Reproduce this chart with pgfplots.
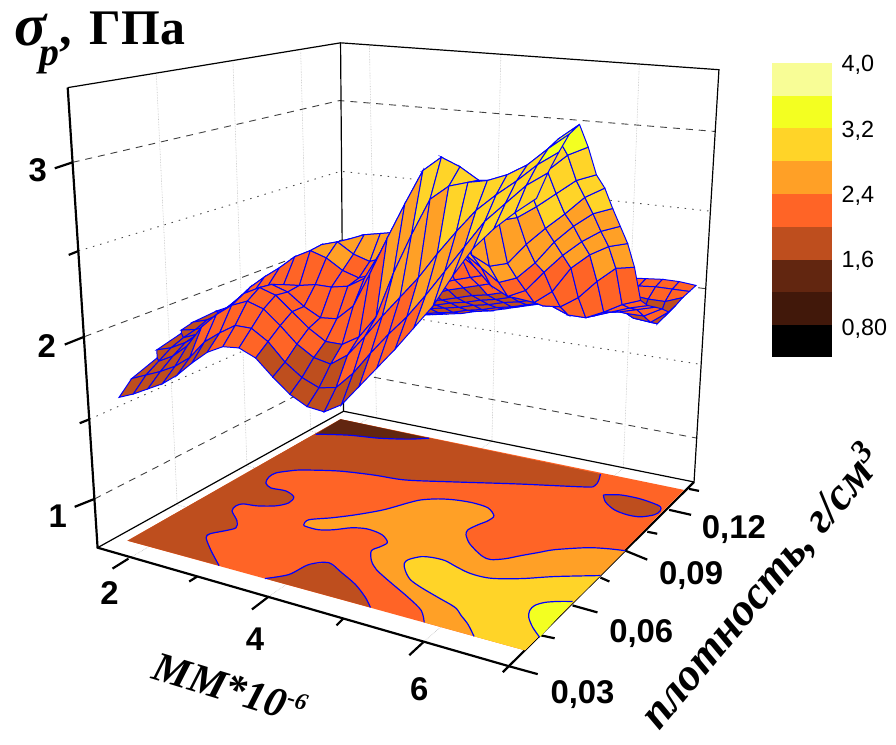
\documentclass[border=0pt]{standalone}
\usepackage{fontspec}
\usepackage{pgfplots}
\usepackage{pgfplotstable}
\pgfplotsset{compat=1.18}
\setmainfont{Liberation Sans}
\newfontfamily\ser{Liberation Serif}
\definecolor{cA}{RGB}{0,0,0}
\definecolor{cB}{RGB}{65,24,10}
\definecolor{cC}{RGB}{98,38,16}
\definecolor{cD}{RGB}{190,78,30}
\definecolor{cE}{RGB}{255,100,38}
\definecolor{cF}{RGB}{255,160,38}
\definecolor{cG}{RGB}{255,212,40}
\definecolor{cH}{RGB}{243,255,33}
\definecolor{cI}{RGB}{248,253,150}
\definecolor{bl}{RGB}{0,0,255}
\pgfplotsset{
 gridv/.style={color=black!25,line width=0.6pt,densely dotted,forget plot},
 dashg/.style={color=black!75,line width=0.9pt,dash pattern=on 7pt off 6pt,forget plot},
 dotg/.style={color=black!70,line width=0.9pt,dash pattern=on 1.5pt off 6pt,forget plot},
 thn/.style={color=black,line width=1.2pt,forget plot},
 thk/.style={color=black,line width=2.2pt,forget plot},
 reg/.style={draw=none,fill=#1,forget plot},
 ctl/.style={color=bl,line width=1.2pt,smooth,forget plot}}
% sigma values: 21 rows (density, back to front), 25 columns (MM)
\pgfplotstableread[row sep=\\]{
s\\
1.46\\1.48\\1.50\\1.52\\1.54\\1.56\\1.58\\1.60\\1.62\\1.64\\1.67\\1.69\\1.72\\1.75\\1.78\\1.81\\1.85\\1.89\\1.95\\2.01\\2.05\\2.06\\2.07\\2.07\\2.06\\
1.50\\1.52\\1.54\\1.56\\1.58\\1.60\\1.62\\1.64\\1.66\\1.68\\1.71\\1.73\\1.76\\1.78\\1.81\\1.84\\1.87\\1.90\\1.94\\2.00\\2.03\\2.04\\2.05\\2.05\\2.05\\
1.56\\1.58\\1.60\\1.62\\1.64\\1.66\\1.68\\1.70\\1.72\\1.74\\1.76\\1.79\\1.81\\1.84\\1.86\\1.89\\1.91\\1.94\\1.97\\2.00\\2.02\\2.01\\2.00\\2.00\\2.04\\
1.63\\1.64\\1.65\\1.67\\1.69\\1.71\\1.73\\1.75\\1.77\\1.79\\1.82\\1.84\\1.87\\1.89\\1.92\\1.95\\1.97\\1.99\\2.02\\2.02\\2.01\\1.96\\1.90\\1.89\\2.02\\
1.65\\1.66\\1.68\\1.70\\1.72\\1.74\\1.77\\1.80\\1.82\\1.85\\1.87\\1.90\\1.93\\1.95\\1.98\\2.01\\2.03\\2.04\\2.04\\2.03\\2.02\\2.00\\1.94\\1.93\\2.01\\
1.68\\1.70\\1.72\\1.75\\1.77\\1.80\\1.83\\1.86\\1.88\\1.91\\1.94\\1.98\\2.01\\2.04\\2.07\\2.10\\2.11\\2.09\\2.06\\2.04\\2.03\\2.02\\2.00\\2.00\\2.06\\
1.72\\1.74\\1.77\\1.80\\1.83\\1.87\\1.90\\1.93\\1.95\\1.98\\2.01\\2.05\\2.09\\2.12\\2.15\\2.17\\2.16\\2.11\\2.07\\2.04\\2.02\\2.02\\2.04\\2.07\\2.10\\
1.76\\1.79\\1.83\\1.87\\1.91\\1.96\\2.00\\2.06\\2.11\\2.15\\2.18\\2.21\\2.24\\2.27\\2.30\\2.33\\2.30\\2.21\\2.12\\2.06\\2.03\\2.03\\2.07\\2.11\\2.14\\
1.82\\1.87\\1.94\\2.03\\2.11\\2.17\\2.21\\2.24\\2.27\\2.29\\2.32\\2.35\\2.38\\2.40\\2.43\\2.43\\2.38\\2.27\\2.16\\2.09\\2.05\\2.05\\2.10\\2.16\\2.20\\
1.88\\1.96\\2.03\\2.10\\2.16\\2.21\\2.25\\2.28\\2.31\\2.34\\2.38\\2.42\\2.46\\2.48\\2.48\\2.45\\2.37\\2.27\\2.17\\2.12\\2.13\\2.20\\2.31\\2.40\\2.42\\
1.90\\1.96\\2.03\\2.10\\2.15\\2.20\\2.24\\2.28\\2.32\\2.36\\2.40\\2.43\\2.45\\2.46\\2.45\\2.42\\2.36\\2.26\\2.18\\2.17\\2.25\\2.40\\2.49\\2.55\\2.58\\
1.87\\1.88\\1.90\\1.97\\2.05\\2.12\\2.18\\2.25\\2.33\\2.39\\2.46\\2.49\\2.50\\2.50\\2.48\\2.44\\2.37\\2.27\\2.22\\2.27\\2.39\\2.50\\2.59\\2.66\\2.70\\
1.88\\1.89\\1.90\\1.92\\1.96\\2.03\\2.13\\2.25\\2.36\\2.46\\2.50\\2.52\\2.54\\2.56\\2.57\\2.54\\2.47\\2.40\\2.33\\2.37\\2.47\\2.60\\2.70\\2.78\\2.82\\
1.88\\1.90\\1.93\\1.97\\2.02\\2.10\\2.20\\2.31\\2.44\\2.47\\2.41\\2.38\\2.42\\2.50\\2.58\\2.64\\2.65\\2.50\\2.45\\2.48\\2.60\\2.70\\2.79\\2.89\\2.95\\
1.87\\1.90\\1.96\\2.05\\2.15\\2.23\\2.30\\2.38\\2.43\\2.40\\2.34\\2.31\\2.35\\2.47\\2.62\\2.75\\2.83\\2.79\\2.75\\2.74\\2.77\\2.84\\2.92\\3.00\\3.04\\
1.85\\1.87\\1.91\\1.98\\2.07\\2.16\\2.22\\2.24\\2.25\\2.27\\2.27\\2.29\\2.35\\2.52\\2.72\\2.90\\3.02\\3.03\\2.96\\2.90\\2.91\\2.98\\3.06\\3.15\\3.20\\
1.83\\1.85\\1.89\\1.94\\2.00\\2.10\\2.22\\2.27\\2.24\\2.17\\2.12\\2.13\\2.22\\2.42\\2.63\\2.83\\3.02\\3.10\\3.06\\3.00\\3.01\\3.06\\3.14\\3.25\\3.33\\
1.79\\1.82\\1.87\\1.93\\2.02\\2.14\\2.23\\2.28\\2.25\\2.17\\2.09\\2.03\\2.03\\2.09\\2.22\\2.48\\2.70\\2.90\\2.98\\3.01\\3.03\\3.07\\3.13\\3.22\\3.30\\
1.74\\1.77\\1.82\\1.90\\2.03\\2.12\\2.19\\2.23\\2.20\\2.12\\2.03\\1.97\\1.95\\2.02\\2.14\\2.27\\2.39\\2.51\\2.65\\2.78\\2.90\\2.99\\3.07\\3.16\\3.23\\
1.68\\1.72\\1.76\\1.81\\1.88\\1.99\\2.06\\2.12\\2.12\\2.06\\1.96\\1.89\\1.85\\1.87\\1.97\\2.10\\2.22\\2.33\\2.46\\2.60\\2.74\\2.88\\2.98\\3.08\\3.15\\
1.60\\1.64\\1.69\\1.74\\1.81\\1.90\\1.98\\2.03\\2.04\\2.00\\1.91\\1.83\\1.78\\1.77\\1.83\\1.95\\2.07\\2.19\\2.32\\2.45\\2.62\\2.77\\2.88\\2.97\\3.05\\
}\surfdata
% projection of the 3D box onto the picture plane
\def\mmU{(mod(\coordindex,25)/24)}
\def\rhoV{(1-floor(\coordindex/25)/20)}
\def\sigT{((\thisrow{s}-0.69)*0.03227)}
\def\depW{(1-0.1438*\mmU+0.2232*\rhoV-\sigT)}
\begin{document}
\begin{tikzpicture}
\path (0,0) rectangle (896pt,748pt);
\begin{axis}[at={(0,0)},anchor=south west,scale only axis,width=896pt,height=748pt,
  xmin=0,xmax=896,ymin=0,ymax=748,y dir=reverse,
  hide axis,clip=false,no markers]
\addplot[gridv] coordinates {(157,75)(178,507)};
\addplot[gridv] coordinates {(234,63)(248,468)};
\addplot[gridv] coordinates {(302,52)(312,433)};
\addplot[gridv] coordinates {(371,45)(378,418)};
\addplot[gridv] coordinates {(503,54)(494,443)};
\addplot[gridv] coordinates {(642,65)(626,470)};
\addplot[gridv] coordinates {(129,561)(372,419)};
\addplot[gridv] coordinates {(270,599)(494,443)};
\addplot[gridv] coordinates {(425,645)(626,470)};
\addplot[gridv] coordinates {(575,608)(178,507)};
\addplot[gridv] coordinates {(628,553)(248,468)};
\addplot[gridv] coordinates {(672,512)(312,433)};
\addplot[dashg] coordinates {(95,501)(344.5,373)(700,440)};
\addplot[dashg] coordinates {(85,338)(343,241)(709,290)};
\addplot[dashg] coordinates {(73,163)(341,101)(718,132)};
\addplot[dotg] coordinates {(90,421)(344,308)(704,366)};
\addplot[dotg] coordinates {(79,252)(342,172)(713,212)};
\addplot[thn] coordinates {(98,550)(345,413)(697,484)};
\addplot[thn] coordinates {(345,413)(342,43)};
\addplot[thn] coordinates {(68,88)(342,43)(722,70)(697,484)};
\addplot[thk] coordinates {(68,88)(98,550)(511,669)(697,484)};
\addplot[thk] coordinates {(73,163)(55,169)};
\addplot[thk] coordinates {(85,338)(65,346)};
\addplot[thk] coordinates {(95,501)(75,509)};
\addplot[thk] coordinates {(79,252)(69,256)};
\addplot[thk] coordinates {(90,421)(80,425)};
\addplot[thk] coordinates {(129,561)(113,571)};
\addplot[thk] coordinates {(270,599)(253,612)};
\addplot[thk] coordinates {(425,645)(411,658)};
\addplot[thk] coordinates {(198,579)(190,584)};
\addplot[thk] coordinates {(345,621)(338,628)};
\addplot[thk] coordinates {(511,669)(505,675)};
\addplot[thk] coordinates {(511,669)(540,677)};
\addplot[thk] coordinates {(575,608)(600,615)};
\addplot[thk] coordinates {(628,553)(650,562)};
\addplot[thk] coordinates {(672,512)(694,517)};
\addplot[thk] coordinates {(543,638)(557,641)};
\addplot[thk] coordinates {(603,580)(612,584)};
\addplot[thk] coordinates {(650,534)(660,536)};
\addplot[thk] coordinates {(692,491)(702,493)};
% floor map
\addplot[reg=cE] coordinates {(128,543)(527,653)(687,492)(342,421)} --cycle;
\addplot[reg=cD] coordinates {(220,568)(212,553)(207,540)(211,536)(226,533)(237,530)(238,523)(233,513)(237,508)(244,506)(258,508)(277,508)(290,505)(295,499)(287,493)(272,490)(267,485)(270,479)(277,475)(290,473)(303,472)(340,473)(375,477)(407,482)(457,484)(520,486)(587,489)(597,488)(601,483)(603,476)(342,421)(128,543)} --cycle;
\addplot[reg=cC] coordinates {(317,436)(350,437)(380,440)(410,441)(431,440)(342,421)} --cycle;
\addplot[reg=cD] coordinates {(266,581)(290,577)(310,567)(330,565)(343,575)(357,587)(367,600)(372,610)} --cycle;
\addplot[reg=cD] coordinates {(606,497)(623,497)(643,501)(662,508)(663,513)(657,517)(643,519)(630,517)(617,512)(608,504)} --cycle;
\addplot[reg=cF] coordinates {(426,625)(423,613)(410,600)(390,583)(378,572)(373,563)(373,553)(382,549)(389,545)(386,539)(380,535)(368,531)(353,530)(335,532)(320,532)(308,529)(305,527)(310,522)(333,520)(357,517)(385,512)(410,505)(423,502)(440,501)(457,502)(475,505)(490,510)(496,518)(490,523)(480,527)(470,532)(468,537)(471,545)(477,552)(485,559)(493,562)(508,561)(523,558)(540,555)(557,552)(590,550)(610,551)(628,553)(527,653)} --cycle;
\addplot[reg=cG] coordinates {(476,639)(470,627)(463,618)(457,610)(440,600)(423,590)(412,582)(407,573)(406,566)(410,562)(423,559)(435,560)(447,563)(458,569)(470,575)(483,579)(497,581)(525,581)(557,579)(603,578)(527,653)} --cycle;
\addplot[reg=cH] coordinates {(575,604)(560,604)(547,605)(537,608)(532,613)(531,620)(535,630)(542,640)} --cycle;
\addplot[ctl] coordinates {(317,436)(350,437)(380,440)(410,441)(431,440)};
\addplot[ctl] coordinates {(220,568)(212,553)(207,540)(211,536)(226,533)(237,530)(238,523)(233,513)(237,508)(244,506)(258,508)(277,508)(290,505)(295,499)(287,493)(272,490)(267,485)(270,479)(277,475)(290,473)(303,472)(340,473)(375,477)(407,482)(457,484)(520,486)(587,489)(597,488)(601,483)(603,476)};
\addplot[ctl] coordinates {(266,581)(290,577)(310,567)(330,565)(343,575)(357,587)(367,600)(372,610)};
\addplot[ctl] coordinates {(606,497)(623,497)(643,501)(662,508)(663,513)(657,517)(643,519)(630,517)(617,512)(608,504)(606,497)};
\addplot[ctl] coordinates {(426,625)(423,613)(410,600)(390,583)(378,572)(373,563)(373,553)(382,549)(389,545)(386,539)(380,535)(368,531)(353,530)(335,532)(320,532)(308,529)(305,527)(310,522)(333,520)(357,517)(385,512)(410,505)(423,502)(440,501)(457,502)(475,505)(490,510)(496,518)(490,523)(480,527)(470,532)(468,537)(471,545)(477,552)(485,559)(493,562)(508,561)(523,558)(540,555)(557,552)(590,550)(610,551)(628,553)};
\addplot[ctl] coordinates {(476,639)(470,627)(463,618)(457,610)(440,600)(423,590)(412,582)(407,573)(406,566)(410,562)(423,559)(435,560)(447,563)(458,569)(470,575)(483,579)(497,581)(525,581)(557,579)(603,578)};
\addplot[ctl] coordinates {(575,604)(560,604)(547,605)(537,608)(532,613)(531,620)(535,630)(542,640)};
% colour scale
\addplot[reg=cI] coordinates {(775,63)(836,63)(836,96)(775,96)} --cycle;
\addplot[reg=cH] coordinates {(775,96)(836,96)(836,129)(775,129)} --cycle;
\addplot[reg=cG] coordinates {(775,129)(836,129)(836,162)(775,162)} --cycle;
\addplot[reg=cF] coordinates {(775,162)(836,162)(836,195)(775,195)} --cycle;
\addplot[reg=cE] coordinates {(775,195)(836,195)(836,228)(775,228)} --cycle;
\addplot[reg=cD] coordinates {(775,228)(836,228)(836,261)(775,261)} --cycle;
\addplot[reg=cC] coordinates {(775,261)(836,261)(836,293)(775,293)} --cycle;
\addplot[reg=cB] coordinates {(775,293)(836,293)(836,326)(775,326)} --cycle;
\addplot[reg=cA] coordinates {(775,326)(836,326)(836,359)(775,359)} --cycle;
% labels
\node[font=\fontsize{33}{33}\selectfont\bfseries] at (axis cs:38,171) {3};
\node[font=\fontsize{33}{33}\selectfont\bfseries] at (axis cs:47,347) {2};
\node[font=\fontsize{33}{33}\selectfont\bfseries] at (axis cs:58,518) {1};
\node[font=\fontsize{33}{33}\selectfont\bfseries] at (axis cs:110,596) {2};
\node[font=\fontsize{33}{33}\selectfont\bfseries] at (axis cs:256,642) {4};
\node[font=\fontsize{33}{33}\selectfont\bfseries] at (axis cs:421,692) {6};
\node[font=\fontsize{33}{33}\selectfont\bfseries] at (axis cs:737,532) {0,12};
\node[font=\fontsize{33}{33}\selectfont\bfseries] at (axis cs:694,578) {0,09};
\node[font=\fontsize{33}{33}\selectfont\bfseries] at (axis cs:644,636) {0,06};
\node[font=\fontsize{33}{33}\selectfont\bfseries] at (axis cs:585,698) {0,03};
\node[anchor=west,inner sep=0pt,font=\fontsize{23.5}{23.5}\selectfont] at (axis cs:845,65) {4,0};
\node[anchor=west,inner sep=0pt,font=\fontsize{23.5}{23.5}\selectfont] at (axis cs:845,131) {3,2};
\node[anchor=west,inner sep=0pt,font=\fontsize{23.5}{23.5}\selectfont] at (axis cs:845,197) {2,4};
\node[anchor=west,inner sep=0pt,font=\fontsize{23.5}{23.5}\selectfont] at (axis cs:845,262) {1,6};
\node[anchor=west,inner sep=0pt,font=\fontsize{23.5}{23.5}\selectfont] at (axis cs:845,330) {0,80};
\node[anchor=base west,inner sep=0pt,font=\fontsize{60}{60}\selectfont\ser\bfseries\itshape] at (axis cs:14,46) {σ};
\node[anchor=base west,inner sep=0pt,font=\fontsize{40}{40}\selectfont\ser\bfseries\itshape] at (axis cs:39,66) {p};
\node[anchor=base west,inner sep=0pt,font=\fontsize{50}{50}\selectfont\ser\bfseries] at (axis cs:60,45) {,};
\node[anchor=base west,inner sep=0pt,font=\fontsize{50}{50}\selectfont\ser\bfseries] at (axis cs:90,45) {ГПа};
\node[rotate=-17,font=\fontsize{42}{42}\selectfont\ser\bfseries\itshape] at (axis cs:231,690) {ММ*10\raisebox{14pt}{\fontsize{24}{24}\selectfont -6}};
\node[rotate=50,font=\fontsize{46}{46}\selectfont\ser\bfseries\itshape] at (axis cs:765,590) {плотность, г/см\raisebox{14pt}{\fontsize{32}{32}\selectfont 3}};
\end{axis}
\begin{axis}[at={(0,0)},anchor=south west,scale only axis,width=896pt,height=748pt,
  xmin=0,xmax=896,ymin=0,ymax=748,zmin=-1,zmax=1,y dir=reverse,view={0}{90},
  hide axis,clip=false,
  point meta min=0.4,point meta max=4.0,
  colormap={bands}{rgb255=(0,0,0) rgb255=(65,24,10) rgb255=(98,38,16) rgb255=(190,78,30)
    rgb255=(255,100,38) rgb255=(255,160,38) rgb255=(255,212,40) rgb255=(243,255,33) rgb255=(248,253,150)},
  colormap access=piecewise constant]
\addplot3[surf,shader=faceted,faceted color=bl,line width=1pt,forget plot,mesh/cols=25,mesh/ordering=x varies,z buffer=none,point meta=\thisrow{s}]
  table[x index=0,y index=0,z index=0,x expr={(323.22*\mmU+290.34*\rhoV+128-406*\sigT)/\depW},y expr={(16.1*\mmU-28.03*\rhoV+543-5300*\sigT)/\depW},z expr=0]{\surfdata};
\end{axis}
\end{tikzpicture}
\end{document}
